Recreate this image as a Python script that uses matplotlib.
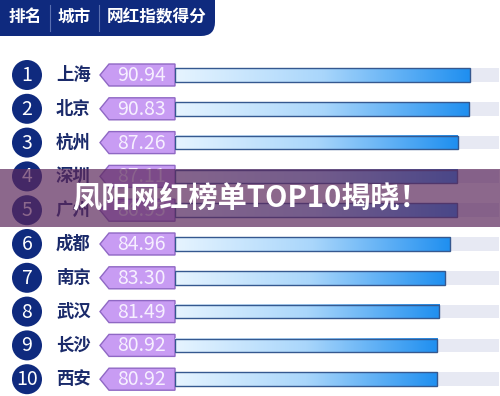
import matplotlib
matplotlib.use("Agg")
import matplotlib.pyplot as plt
import numpy as np
from matplotlib.patches import FancyBboxPatch, Circle, Polygon, Rectangle
from matplotlib.colors import LinearSegmentedColormap

plt.rcParams['font.family'] = ['Noto Sans CJK SC', 'DejaVu Sans']

ranks = ["1", "2", "3", "4", "5", "6", "7", "8", "9", "10"]
cities = ["上海", "北京", "杭州", "深圳", "广州", "成都", "南京", "武汉", "长沙", "西安"]
scores = [90.94, 90.83, 87.26, 87.11, 86.95, 84.96, 83.30, 81.49, 80.92, 80.92]
headers = ["排名", "城市", "网红指数得分"]
title = "凤阳网红榜单TOP10揭晓！"
xmax = 100

W, H = 500, 396
fig = plt.figure(figsize=(W / 100, H / 100), dpi=100)
fig.patch.set_facecolor("white")

bg = fig.add_axes([0, 0, 1, 1])
bg.set_xlim(0, W)
bg.set_ylim(H, 0)
bg.axis("off")

row0, step = 75.0, 33.8
n = len(cities)

top_px = row0 - step / 2
bot_px = row0 + step * (n - 1) + step / 2
bx0, bx1 = 175, 499
ax = fig.add_axes([bx0 / W, 1 - bot_px / H, (bx1 - bx0) / W, (bot_px - top_px) / H])
ax.set_xlim(0, xmax)
ax.set_ylim(n - 0.5, -0.5)
ax.axis("off")
ax.patch.set_alpha(0)

navy = "#0f2a7e"

hdr = FancyBboxPatch((-20, -20), 235, 56, boxstyle="round,pad=0,rounding_size=14",
                     facecolor=navy, edgecolor="none")
bg.add_patch(hdr)
hx = [25, 74, 157]
for x, t in zip(hx, headers):
    bg.text(x, 17, t, color="white", fontsize=12, fontweight="bold", ha="center", va="center")
for x in [50, 99]:
    bg.plot([x, x], [5, 31], color="#5a6fb0", lw=0.8)

cmap = LinearSegmentedColormap.from_list("b", ["#e6f4ff", "#a9d6fb", "#1f8ff0"])
grad = np.linspace(0, 1, 256).reshape(1, -1)
bh = 0.4

for i, (r, c, v) in enumerate(zip(ranks, cities, scores)):
    y = row0 + step * i
    bg.add_patch(Circle((27, y), 15, facecolor=navy, edgecolor="none"))
    bg.text(27, y + 0.5, r, color="white", fontsize=14, ha="center", va="center")
    bg.text(56, y, c, color="#1a2a6a", fontsize=12.5, fontweight="bold", ha="left", va="center")
    pent = Polygon([(100, y), (109, y - 11), (175, y - 11), (175, y + 11), (109, y + 11)],
                   closed=True, facecolor="#c89cf3", edgecolor="#8f68c4", lw=1)
    bg.add_patch(pent)
    bg.text(141, y + 0.5, f"{v:.2f}", color="#f6efff", fontsize=14, ha="center", va="center")

    ax.barh(i, xmax - v, left=v, height=bh, color="#e7e9f3", edgecolor="none", zorder=1)
    ax.imshow(grad, cmap=cmap, aspect="auto", extent=(0, v, i + bh / 2, i - bh / 2),
              zorder=2, interpolation="bicubic")
    ax.add_patch(Rectangle((0, i - bh / 2), v, bh, facecolor="none",
                           edgecolor="#35588f", lw=1, zorder=3))

ax.set_xlim(0, xmax)
ax.set_ylim(n - 0.5, -0.5)

ov = fig.add_axes([0, 0, 1, 1], zorder=10)
ov.set_xlim(0, W)
ov.set_ylim(H, 0)
ov.axis("off")
ov.patch.set_alpha(0)
ov.add_patch(Rectangle((0, 169), W, 58, facecolor="#5c285c", alpha=0.7, edgecolor="none"))
ov.text(251, 197, title, color="white", fontsize=21, fontweight="bold", ha="center", va="center")

fig.savefig("out.png", dpi=100)
